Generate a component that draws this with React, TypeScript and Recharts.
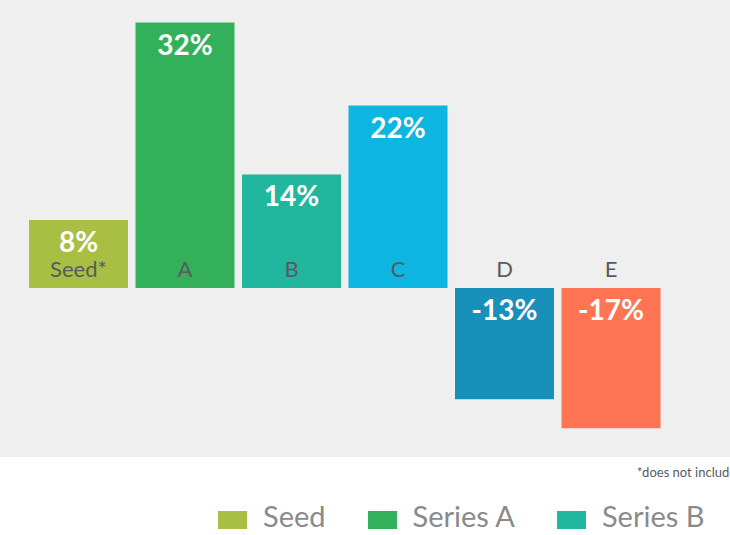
import { BarChart, Bar, XAxis, YAxis, Cell, LabelList } from "recharts";

const categories = ["Seed", "A", "B", "C", "D", "E"];
const tickLabels = ["Seed*", "A", "B", "C", "D", "E"];
const growth = [8.2, 32, 13.7, 22, -13.4, -16.9];
const colors = ["#a8bf44", "#33b15a", "#21b69e", "#0db5e1", "#1890ba", "#ff7452"];
const legendNames = ["Seed", "Series A", "Series B", "Series C", "Series D", "Series E"];

const data = categories.map((name, i) => ({ name, tick: tickLabels[i], value: growth[i] }));

const FONT = "Lato, 'Open Sans', sans-serif";

function ValueLabel(props: any) {
  const { x, y, width, height, index } = props;
  const top = Math.min(y, y + height);
  return (
    <text x={x + width / 2} y={top + 32} textAnchor="middle" fill="#fff" fontSize={28} fontWeight={700} fontFamily={FONT}>
      {Math.round(growth[index])}%
    </text>
  );
}

function CategoryLabel(props: any) {
  const { x, y, width, height, index } = props;
  const zero = growth[index] >= 0 ? Math.max(y, y + height) : Math.min(y, y + height);
  return (
    <text x={x + width / 2} y={zero - 11} textAnchor="middle" fill="#555b61" fontSize={22} fontFamily={FONT}>
      {tickLabels[index]}
    </text>
  );
}

export default function App() {
  return (
    <div style={{ position: "relative", width: 730, height: 535, overflow: "hidden", background: "#fff", fontFamily: FONT }}>
      <style>{"body{margin:0}"}</style>
      <div style={{ position: "absolute", left: 0, top: 0, width: 730, height: 457, background: "#efefef" }}>
        <BarChart width={730} height={457} data={data} margin={{ top: 6, right: 66, bottom: 3, left: 25 }} barCategoryGap={4}>
          <XAxis dataKey="name" hide />
          <YAxis hide domain={[-20, 34]} />
          <Bar dataKey="value" isAnimationActive={false}>
            {data.map((d, i) => (
              <Cell key={d.name} fill={colors[i]} />
            ))}
            <LabelList dataKey="value" content={ValueLabel} />
            <LabelList dataKey="tick" content={CategoryLabel} />
          </Bar>
        </BarChart>
      </div>
      <div style={{ position: "absolute", left: 637, top: 464, fontSize: 13, lineHeight: "16px", color: "#555b61", whiteSpace: "nowrap" }}>
        *does not include
      </div>
      <div style={{ position: "absolute", left: 218, top: 498, display: "flex", alignItems: "flex-start", whiteSpace: "nowrap" }}>
        {legendNames.map((n, i) => (
          <div key={n} style={{ display: "flex", alignItems: "flex-start", marginRight: 42 }}>
            <span style={{ display: "inline-block", width: 29, height: 18, marginTop: 13, background: colors[i], marginRight: 16 }} />
            <span style={{ fontSize: 29, lineHeight: "35px", color: "#8a8a8a" }}>{n}</span>
          </div>
        ))}
      </div>
    </div>
  );
}
